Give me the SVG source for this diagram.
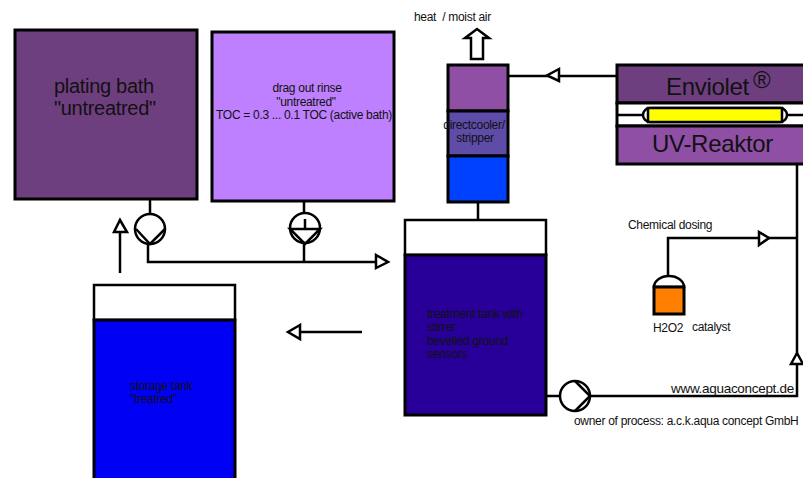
<svg xmlns="http://www.w3.org/2000/svg" width="803" height="478" viewBox="0 0 803 478">
<style>
.b{stroke:#000;stroke-width:2.5;fill:none}
.h{stroke:#000;stroke-width:2.5;fill:#fff}
text{font-family:"Liberation Sans",Arial,sans-serif;fill:#111;letter-spacing:-.3px}
.t12{font-size:12px}
.www{font-size:13.500px}
.big{font-size:24px}
</style>
<rect width="803" height="478" fill="#fff"/>
<g id="connectors">
<path class="b" d="M150 199V214M304 201V214M148 244V262H378M304 244V262"/>
<path class="h" d="M376 255L388 262L376 268Z"/>
<path class="b" d="M120 273V230"/>
<path class="h" d="M120 220L127 232H114Z"/>
<path class="b" d="M362 332H298"/>
<path class="h" d="M300 325L288 332L300 339Z"/>
<path class="b" d="M508 76H617"/>
<path class="h" d="M559 69L547 75.500L559 81Z"/>
<path class="b" d="M478 202V220M546 396H560M590 396H797V164M668 276V238H797"/>
<path class="h" d="M759 232L769 238L759 245Z"/>
<path class="h" d="M797 353L803 364H791Z"/>
<path class="h" d="M471 59V38H465L477 29L489 38H483V59Z"/>
</g>
<g id="plating-bath">
<rect x="15" y="30" width="182" height="169" fill="#6e3f7f" stroke="#000" stroke-width="3"/>
<text x="54" y="93" font-size="20">plating bath</text>
<text x="54" y="115" font-size="20">"untreatred"</text>
</g>
<g id="drag-out-rinse">
<rect x="212" y="32" width="182" height="169" fill="#bf80ff" stroke="#000" stroke-width="3"/>
<text x="307" y="92" font-size="12" text-anchor="middle">drag out rinse</text>
<text x="306" y="106" font-size="12" text-anchor="middle">"untreatred"</text>
<text x="304" y="119" font-size="12" text-anchor="middle" letter-spacing="-.2">TOC = 0.3 ... 0.1 TOC (active bath)</text>
</g>
<g id="pump-1">
<circle cx="150" cy="229" r="15" class="h"/>
<path class="b" d="M136 229L150 244L165 229"/>
</g>
<g id="pump-2">
<circle cx="305" cy="228" r="15" class="h"/>
<path class="b" d="M290 229H320L305 244ZM305 219V229"/>
</g>
<g id="storage-tank">
<rect x="94" y="285" width="141" height="35" fill="#fff" stroke="#000" stroke-width="2.500"/>
<rect x="94" y="320" width="141" height="160" fill="#0000f5" stroke="#000" stroke-width="3"/>
<text x="130" y="390" class="t12">storage tank</text>
<text x="130" y="403" class="t12">"treatred"</text>
</g>
<g id="column">
<rect x="448" y="65" width="60" height="46" fill="#8f4fa5" stroke="#000" stroke-width="3"/>
<rect x="448" y="111" width="60" height="45" fill="#5f4ca8" stroke="#000" stroke-width="3"/>
<rect x="448" y="156" width="60" height="46" fill="#0040ff" stroke="#000" stroke-width="3"/>
<text x="474" y="129" class="t12" text-anchor="middle">directcooler/</text>
<text x="475" y="142" class="t12" text-anchor="middle">stripper</text>
</g>
<g id="heat-label"><text x="414" y="21" class="t12" xml:space="preserve">heat  / moist air</text></g>
<g id="treatment-tank">
<rect x="405" y="220" width="141" height="35" fill="#fff" stroke="#000" stroke-width="2.500"/>
<rect x="405" y="255" width="141" height="160" fill="#280099" stroke="#000" stroke-width="3"/>
<text x="427" y="318" class="t12">treatment tank with</text>
<text x="427" y="331" class="t12">stirrer</text>
<text x="427" y="345" class="t12">bevelled ground</text>
<text x="427" y="358" class="t12">sensors</text>
</g>
<g id="pump-3">
<circle cx="575" cy="396" r="15" class="h"/>
<path class="b" d="M575 381L590 396L575 411"/>
</g>
<g id="reactor">
<rect x="617" y="65" width="190" height="38" fill="#6e3f7f" stroke="#000" stroke-width="3"/>
<rect x="617" y="103" width="190" height="23" fill="#fff" stroke="#000" stroke-width="3"/>
<rect x="617" y="126" width="190" height="38" fill="#8f4fa5" stroke="#000" stroke-width="3"/>
<path class="b" d="M617 115H643M787 115H803"/>
<rect x="643" y="108" width="144" height="14" rx="7" fill="#fff" stroke="#000" stroke-width="2.500"/>
<rect x="648" y="108" width="134" height="14" fill="#ff0" stroke="#000" stroke-width="2.500"/>
<text x="666" y="95" class="big">Enviolet</text>
<text x="753" y="88" class="big">®</text>
<text x="652" y="152" class="big">UV-Reaktor</text>
</g>
<g id="dosing">
<path d="M654 287A15 11 0 0 1 684 287Z" fill="#fff" stroke="#000" stroke-width="2.500"/>
<rect x="654" y="287" width="30" height="27" fill="#ff8000" stroke="#000" stroke-width="3"/>
<text x="628" y="229" class="t12">Chemical dosing</text>
<text x="653" y="332" class="t12">H2O2</text>
<text x="692" y="331" class="t12">catalyst</text>
</g>
<g id="labels">
<text x="671" y="393" class="www">www.aquaconcept.de</text>
<text x="574" y="425" class="t12" letter-spacing="-.2">owner of process: a.c.k.aqua concept GmbH</text>
</g>
</svg>
